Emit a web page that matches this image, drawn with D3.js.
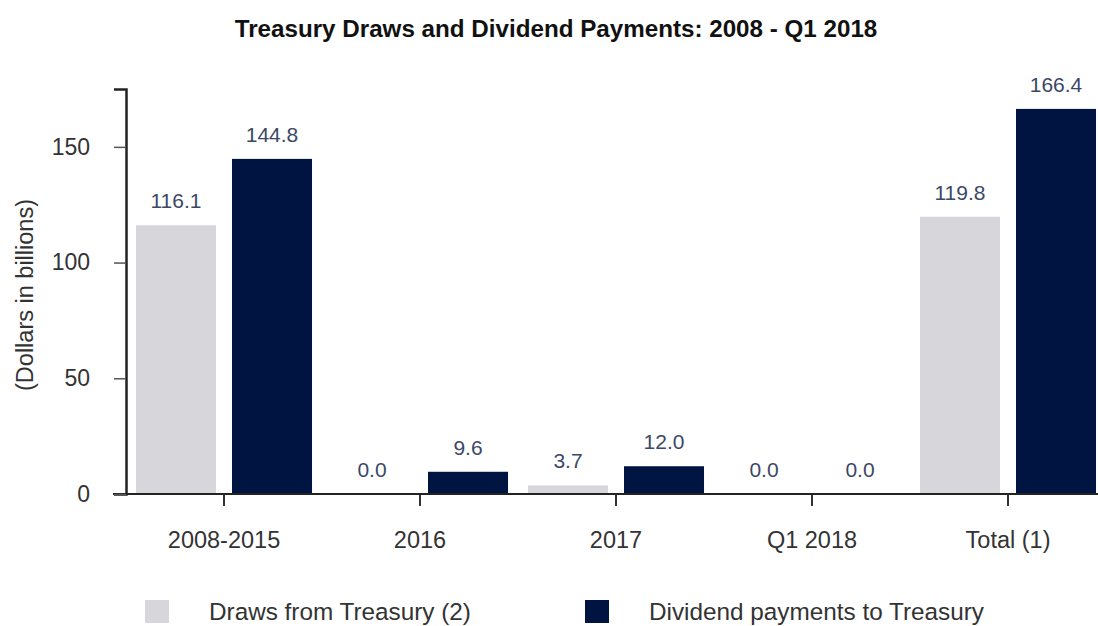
<!DOCTYPE html>
<html>
<head>
<meta charset="utf-8">
<script src="https://cdn.jsdelivr.net/npm/d3@7"></script>
<style>
  body { margin: 0; background: #fff; }
  text { font-family: "Liberation Sans", Arial, sans-serif; }
</style>
</head>
<body>
<div id="chart"></div>
<script>
// values (dollars in billions)
const categories = ["2008-2015", "2016", "2017", "Q1 2018", "Total (1)"]
const seriesNames = ["Draws from Treasury (2)", "Dividend payments to Treasury"]
const draws = [116.1, 0.0, 3.7, 0.0, 119.8]
const dividends = [144.8, 9.6, 12.0, 0.0, 166.4]
const yTicks = [0, 50, 100, 150]

const colors = ["#d6d6db", "#001441"]

const width = 1098
const height = 626
const margin = ({ top: 89, right: -8, bottom: 132, left: 126 })

const svg = d3.select("#chart")
    .append("svg")
    .attr("width", width)
    .attr("height", height)

const x = d3.scaleBand()
    .domain(categories)
    .range([margin.left, width - margin.right])

const xSub = d3.scaleBand()
    .domain([0, 1])
    .range([0, x.bandwidth()])
    .paddingInner(0.1667)
    .paddingOuter(0.104)

const y = d3.scaleLinear()
    .domain([0, 175])
    .range([height - margin.bottom, margin.top])

const rows = categories.map((c, i) => ({ cat: c, values: [draws[i], dividends[i]] }))

// title
svg.append("text")
    .attr("x", 556)
    .attr("y", 37)
    .attr("text-anchor", "middle")
    .attr("font-weight", "bold")
    .attr("font-size", 24.2)
    .attr("fill", "#111")
    .text("Treasury Draws and Dividend Payments: 2008 - Q1 2018")

// bars
const groups = svg.append("g")
    .selectAll("g")
    .data(rows)
    .join("g")
    .attr("transform", d => `translate(${x(d.cat)},0)`)

groups.selectAll("rect")
    .data(d => d.values.map((v, k) => ({ k, v })))
    .join("rect")
    .attr("x", d => xSub(d.k))
    .attr("width", xSub.bandwidth())
    .attr("y", d => y(d.v))
    .attr("height", d => y(0) - y(d.v))
    .attr("fill", d => colors[d.k])

groups.selectAll("text")
    .data(d => d.values.map((v, k) => ({ k, v })))
    .join("text")
    .attr("x", d => xSub(d.k) + xSub.bandwidth() / 2)
    .attr("y", d => y(d.v) - 17)
    .attr("text-anchor", "middle")
    .attr("font-size", 21)
    .attr("fill", "#3b4866")
    .text(d => d.v.toFixed(1))

// x axis
svg.append("g")
    .attr("transform", `translate(0,${y(0)})`)
    .call(d3.axisBottom(x).tickSize(12).tickSizeOuter(0).tickPadding(25))
    .call(g => g.select(".domain").remove())
    .call(g => g.selectAll(".tick line").attr("stroke", "#333").attr("stroke-width", 2))
    .call(g => g.selectAll(".tick text")
        .attr("font-size", 23.5)
        .attr("fill", "#333")
        .attr("font-family", "Liberation Sans, Arial, sans-serif"))

svg.append("line")
    .attr("x1", margin.left - 13)
    .attr("x2", width)
    .attr("y1", y(0))
    .attr("y2", y(0))
    .attr("stroke", "#222")
    .attr("stroke-width", 2)

// y axis
svg.append("g")
    .attr("transform", `translate(${margin.left},0)`)
    .call(d3.axisLeft(y).tickValues(yTicks).tickSize(12).tickPadding(24))
    .call(g => g.select(".domain").attr("stroke", "#222").attr("stroke-width", 2.5))
    .call(g => g.selectAll(".tick line").attr("stroke", "#555").attr("stroke-width", 1.5))
    .call(g => g.selectAll(".tick text")
        .attr("font-size", 23)
        .attr("fill", "#333")
        .attr("font-family", "Liberation Sans, Arial, sans-serif"))

svg.append("text")
    .attr("transform", "translate(33,295) rotate(-90)")
    .attr("text-anchor", "middle")
    .attr("font-size", 23.5)
    .attr("fill", "#333")
    .text("(Dollars in billions)")

// legend
const legendX = [145, 585]
const legend = svg.append("g")
    .selectAll("g")
    .data(seriesNames)
    .join("g")
    .attr("transform", (d, i) => `translate(${legendX[i]},600)`)

legend.append("rect")
    .attr("width", 24)
    .attr("height", 23)
    .attr("fill", (d, i) => colors[i])

legend.append("text")
    .attr("x", 64)
    .attr("y", 20)
    .attr("font-size", 24.3)
    .attr("fill", "#333")
    .text(d => d)
</script>
</body>
</html>
